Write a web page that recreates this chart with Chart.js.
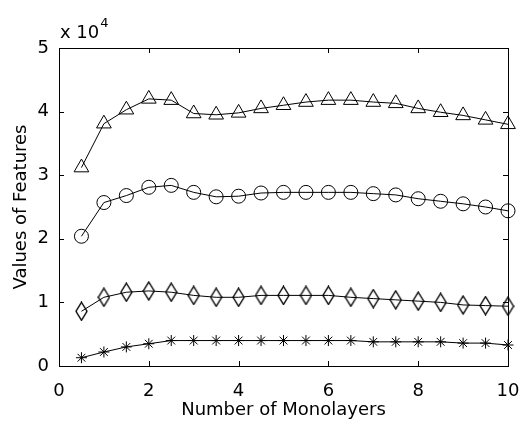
<!DOCTYPE html>
<html>
<head>
<meta charset="utf-8">
<script src="https://cdn.jsdelivr.net/npm/chart.js@4"></script>
<style>
    html, body { margin: 0; padding: 0; background: #fff; }
    #wrap { width: 519px; height: 424px; }
</style>
</head>
<body>
<div id="wrap"><canvas id="featChart"></canvas></div>
<script>
// 단층 수에 따른 특징값 (단위: x 10^4)
const monolayers = [0.5, 1, 1.5, 2, 2.5, 3, 3.5, 4, 4.5, 5, 5.5, 6, 6.5, 7, 7.5, 8, 8.5, 9, 9.5, 10];
const triangleVals = [3.12, 3.81, 4.03, 4.20, 4.18, 3.97, 3.95, 3.98, 4.05, 4.10, 4.15, 4.18, 4.18, 4.15, 4.13, 4.05, 3.99, 3.94, 3.87, 3.80];
const circleVals = [2.04, 2.57, 2.68, 2.81, 2.84, 2.73, 2.66, 2.67, 2.72, 2.73, 2.73, 2.73, 2.73, 2.71, 2.69, 2.63, 2.59, 2.55, 2.50, 2.44];
const diamondVals = [0.86, 1.08, 1.16, 1.18, 1.16, 1.11, 1.08, 1.08, 1.11, 1.11, 1.11, 1.11, 1.08, 1.06, 1.04, 1.02, 1.00, 0.96, 0.95, 0.94];
const starVals = [0.13, 0.22, 0.30, 0.35, 0.40, 0.40, 0.40, 0.40, 0.40, 0.40, 0.40, 0.40, 0.40, 0.38, 0.38, 0.38, 0.38, 0.36, 0.36, 0.33];

const xTicks = [0, 2, 4, 6, 8, 10];
const yTicks = [0, 1, 2, 3, 4, 5];

const FONT = "'DejaVu Sans', sans-serif";

/** 세로로 긴 마름모 마커 */
function makeDiamond(w, h) {
    const c = document.createElement("canvas");
    c.width = w;
    c.height = h;
    const g = c.getContext("2d");
    g.strokeStyle = "#000";
    g.lineWidth = 1.4;
    g.beginPath();
    g.moveTo(w / 2, 1);
    g.lineTo(w - 1, h / 2);
    g.lineTo(w / 2, h - 1);
    g.lineTo(1, h / 2);
    g.closePath();
    g.stroke();
    return c;
}

function toPoints(vals) {
    return vals.map((v, i) => ({ x: monolayers[i], y: v }));
}

function series(label, vals, style, radius) {
    return {
        label: label,
        data: toPoints(vals),
        borderColor: "#000",
        backgroundColor: "transparent",
        borderWidth: 1,
        tension: 0,
        pointStyle: style,
        pointRadius: radius,
        pointBorderColor: "#000",
        pointBorderWidth: 1,
        pointBackgroundColor: "transparent",
        clip: false,
    };
}

/** MATLAB 스타일 박스 + 안쪽 눈금 + 지수 표기 */
const boxPlugin = {
    id: "boxPlugin",
    afterDraw(chart) {
        const { ctx, chartArea: a, scales } = chart;
        const len = 5;
        ctx.save();
        ctx.strokeStyle = "#000";
        ctx.lineWidth = 1;
        ctx.strokeRect(Math.round(a.left) + 0.5, Math.round(a.top) + 0.5,
            Math.round(a.right - a.left), Math.round(a.bottom - a.top));
        ctx.beginPath();
        xTicks.forEach((v) => {
            const px = Math.round(scales.x.getPixelForValue(v)) + 0.5;
            ctx.moveTo(px, a.bottom);
            ctx.lineTo(px, a.bottom - len);
            ctx.moveTo(px, a.top);
            ctx.lineTo(px, a.top + len);
        });
        yTicks.forEach((v) => {
            const py = Math.round(scales.y.getPixelForValue(v)) + 0.5;
            ctx.moveTo(a.left, py);
            ctx.lineTo(a.left + len, py);
            ctx.moveTo(a.right, py);
            ctx.lineTo(a.right - len, py);
        });
        ctx.stroke();

        ctx.fillStyle = "#000";
        ctx.textBaseline = "alphabetic";
        ctx.textAlign = "left";
        ctx.font = "18px " + FONT;
        ctx.fillText("x 10", a.left + 1, a.top - 10);
        const w = ctx.measureText("x 10").width;
        ctx.font = "13px " + FONT;
        ctx.fillText("4", a.left + 2 + w, a.top - 21);
        ctx.restore();
    }
};

new Chart(document.getElementById("featChart").getContext("2d"), {
    type: "line",
    data: {
        datasets: [
            series("triangle", triangleVals, "triangle", 8.5),
            series("circle", circleVals, "circle", 7),
            series("diamond", diamondVals, makeDiamond(13, 20), 7),
            series("star", starVals, "star", 5.5),
        ]
    },
    options: {
        responsive: true,
        maintainAspectRatio: false,
        animation: false,
        layout: { padding: { left: 0, right: 11, top: 48, bottom: 0 } },
        plugins: {
            legend: { display: false },
            tooltip: { enabled: false }
        },
        scales: {
            x: {
                type: "linear",
                min: 0,
                max: 10,
                afterBuildTicks: (s) => { s.ticks = xTicks.map((v) => ({ value: v })); },
                afterFit: (s) => {
                    s.height = 58;
                    s.paddingLeft = 0;
                    s.paddingRight = 0;
                },
                grid: { display: false },
                border: { display: false },
                ticks: { color: "#000", padding: 7, maxRotation: 0, font: { family: FONT, size: 18 } },
                title: {
                    display: true,
                    text: "Number of Monolayers",
                    color: "#000",
                    padding: { top: 0, bottom: 3 },
                    font: { family: FONT, size: 18 }
                }
            },
            y: {
                min: 0,
                max: 5,
                afterBuildTicks: (s) => { s.ticks = yTicks.map((v) => ({ value: v })); },
                afterFit: (s) => {
                    s.width = 59;
                    s.paddingTop = 0;
                    s.paddingBottom = 0;
                },
                grid: { display: false },
                border: { display: false },
                ticks: { color: "#000", padding: 2, font: { family: FONT, size: 18 } },
                title: {
                    display: true,
                    text: "Values of Features",
                    color: "#000",
                    padding: { top: 11, bottom: 0 },
                    font: { family: FONT, size: 18 }
                }
            }
        }
    },
    plugins: [boxPlugin]
});
</script>
</body>
</html>
